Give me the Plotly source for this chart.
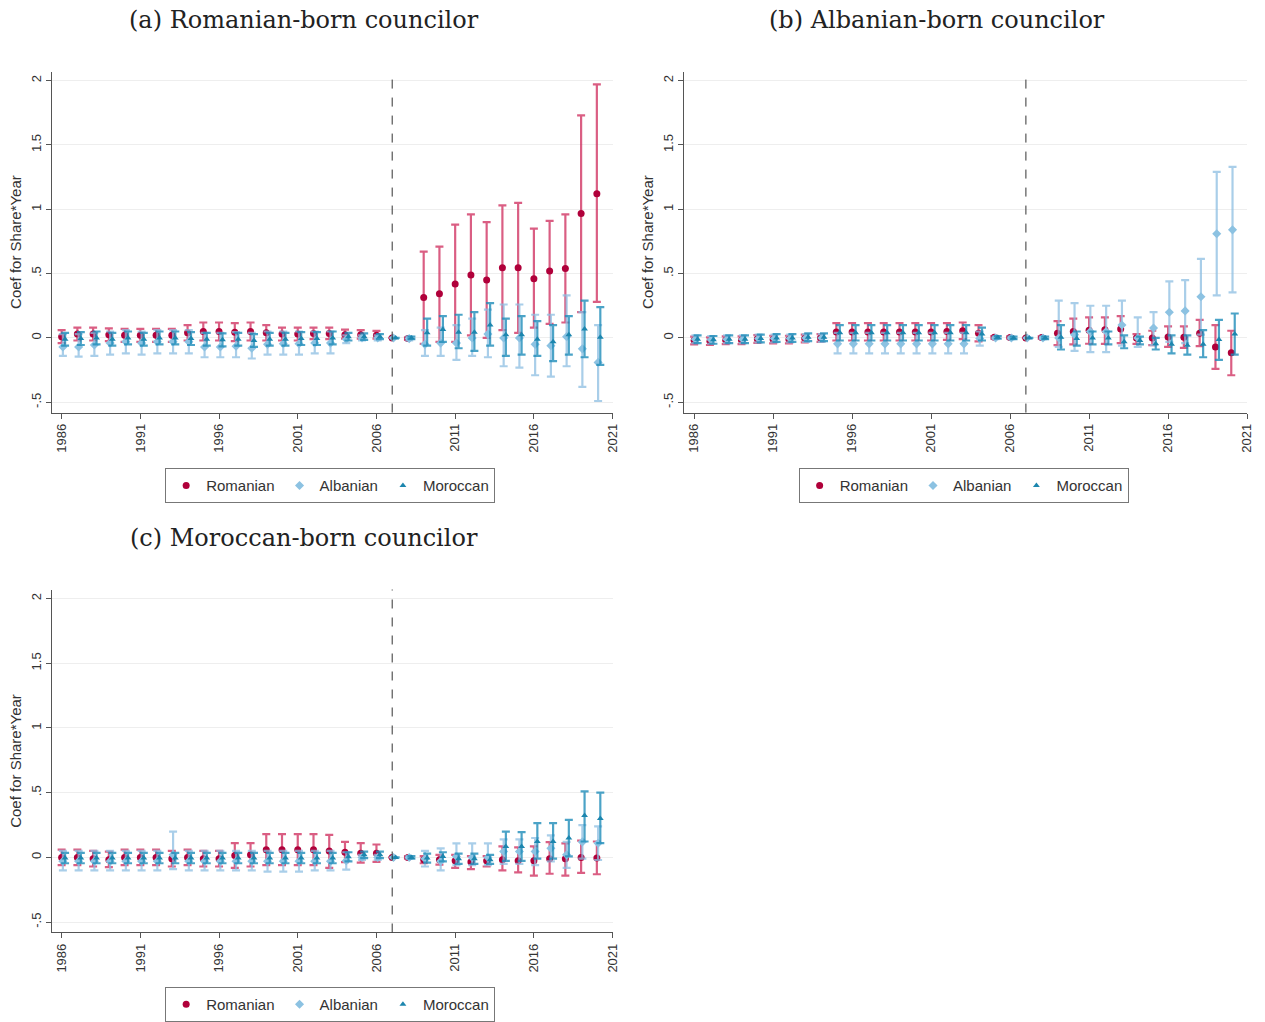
import plotly.graph_objects as go

# Event-study coefficients (Share*Year) by councilor origin, 2007 = reference year
YEARS = list(range(1986, 2021))
REF_YEAR = 2007

# ---------- (a) Romanian-born councilor ----------
ROM_A = [0.01, 0.03, 0.03, 0.025, 0.02, 0.02, 0.02, 0.02, 0.04, 0.05, 0.05, 0.045, 0.05, 0.04, 0.03, 0.03, 0.035, 0.035,
         0.025, 0.025, 0.02, 0.0, -0.005,
         0.315, 0.344, 0.42, 0.49, 0.45, 0.546, 0.546, 0.46, 0.52, 0.54, 0.967, 1.12]
ROM_A_HI = [0.06, 0.08, 0.08, 0.075, 0.07, 0.07, 0.07, 0.07, 0.1, 0.12, 0.12, 0.115, 0.12, 0.1, 0.08, 0.08, 0.08, 0.08,
            0.064, 0.06, 0.055, 0.0, 0.005,
            0.67, 0.71, 0.88, 0.96, 0.9, 1.03, 1.05, 0.85, 0.91, 0.96, 1.73, 1.97]
ROM_A_LO = [-0.04, -0.02, -0.02, -0.025, -0.03, -0.03, -0.03, -0.03, -0.02, -0.02, -0.02, -0.025, -0.02, -0.02, -0.02, -0.02, -0.01, -0.01,
            -0.005, -0.005, -0.005, 0.0, -0.015,
            -0.046, -0.03, -0.03, 0.02, 0.0, 0.06, 0.04, 0.08, 0.11, 0.12, 0.2, 0.28]
ALB_A = [-0.07, -0.07, -0.055, -0.04, -0.03, -0.04, -0.03, -0.03, -0.03, -0.07, -0.07, -0.065, -0.08, -0.05, -0.045, -0.045, -0.04, -0.04,
         -0.01, 0.0, 0.0, 0.0, -0.005,
         -0.05, -0.04, -0.04, 0.0, 0.03, 0.0, 0.0, -0.05, -0.06, 0.01, -0.085, -0.19]
ALB_A_HI = [0.03, 0.03, 0.04, 0.05, 0.06, 0.05, 0.06, 0.06, 0.06, 0.04, 0.04, 0.045, 0.04, 0.05, 0.05, 0.05, 0.05, 0.05,
            0.02, 0.02, 0.02, 0.0, 0.01,
            0.06, 0.08, 0.1, 0.15, 0.22, 0.26, 0.26, 0.18, 0.18, 0.33, 0.2, 0.1]
ALB_A_LO = [-0.14, -0.145, -0.14, -0.13, -0.12, -0.13, -0.12, -0.12, -0.12, -0.15, -0.15, -0.15, -0.16, -0.13, -0.13, -0.13, -0.12, -0.12,
            -0.04, -0.02, -0.02, 0.0, -0.02,
            -0.14, -0.14, -0.17, -0.14, -0.15, -0.22, -0.23, -0.29, -0.3, -0.22, -0.38, -0.49]
MOR_A = [-0.01, -0.005, 0.0, -0.01, 0.0, -0.01, 0.0, 0.0, -0.005, -0.01, -0.015, -0.01, -0.02, -0.01, -0.01, -0.005, -0.005, 0.0,
         0.01, 0.01, 0.01, 0.0, 0.0,
         0.04, 0.065, 0.045, 0.045, 0.1, 0.025, 0.025, -0.01, -0.03, 0.025, 0.07, 0.005]
MOR_A_HI = [0.04, 0.045, 0.05, 0.04, 0.05, 0.04, 0.05, 0.05, 0.045, 0.04, 0.035, 0.04, 0.03, 0.04, 0.04, 0.045, 0.045, 0.05,
            0.04, 0.035, 0.03, 0.0, 0.01,
            0.15, 0.17, 0.18, 0.2, 0.27, 0.15, 0.17, 0.13, 0.1, 0.17, 0.29, 0.24]
MOR_A_LO = [-0.06, -0.055, -0.05, -0.06, -0.05, -0.06, -0.05, -0.05, -0.055, -0.06, -0.065, -0.06, -0.07, -0.06, -0.06, -0.055, -0.055, -0.05,
            -0.02, -0.015, -0.01, 0.0, -0.01,
            -0.06, -0.03, -0.08, -0.1, -0.06, -0.14, -0.13, -0.14, -0.18, -0.13, -0.15, -0.21]

# ---------- (b) Albanian-born councilor ----------
ROM_B = [-0.02, -0.025, -0.018, -0.018, -0.008, -0.013, -0.013, -0.005, 0.0, 0.046, 0.046, 0.046, 0.046, 0.046, 0.046, 0.046, 0.05, 0.056,
         0.036, 0.005, 0.003, 0.0, 0.003,
         0.036, 0.05, 0.06, 0.064, 0.07, 0.0, 0.0, 0.008, 0.005, 0.036, -0.07, -0.115]
ROM_B_HI = [0.01, 0.005, 0.012, 0.012, 0.022, 0.017, 0.017, 0.025, 0.03, 0.115, 0.115, 0.115, 0.115, 0.115, 0.115, 0.115, 0.115, 0.12,
            0.1, 0.015, 0.012, 0.0, 0.012,
            0.13, 0.15, 0.16, 0.16, 0.17, 0.03, 0.056, 0.09, 0.09, 0.14, 0.1, 0.056]
ROM_B_LO = [-0.05, -0.055, -0.048, -0.048, -0.038, -0.043, -0.043, -0.035, -0.03, -0.02, -0.02, -0.02, -0.02, -0.02, -0.02, -0.02, -0.015, -0.01,
            -0.026, -0.005, -0.006, 0.0, -0.006,
            -0.056, -0.05, -0.045, -0.046, -0.04, -0.046, -0.056, -0.07, -0.077, -0.064, -0.24, -0.29]
ALB_B = [-0.01, -0.015, -0.01, -0.01, -0.005, -0.005, -0.005, 0.0, 0.0, -0.046, -0.046, -0.046, -0.046, -0.046, -0.046, -0.046, -0.046, -0.046,
         -0.005, 0.0, 0.0, 0.0, 0.0,
         0.0, 0.025, 0.05, 0.05, 0.1, 0.0, 0.077, 0.2, 0.21, 0.32, 0.81, 0.84]
ALB_B_HI = [0.02, 0.015, 0.02, 0.02, 0.025, 0.025, 0.025, 0.03, 0.03, 0.04, 0.04, 0.04, 0.04, 0.04, 0.04, 0.04, 0.04, 0.04,
            0.05, 0.01, 0.01, 0.0, 0.01,
            0.29, 0.27, 0.25, 0.25, 0.29, 0.16, 0.2, 0.44, 0.45, 0.615, 1.29, 1.33]
ALB_B_LO = [-0.04, -0.045, -0.04, -0.04, -0.035, -0.035, -0.035, -0.03, -0.03, -0.12, -0.12, -0.12, -0.12, -0.12, -0.12, -0.12, -0.12, -0.12,
            -0.06, -0.01, -0.01, 0.0, -0.01,
            -0.07, -0.1, -0.11, -0.11, -0.06, -0.07, -0.056, -0.03, -0.04, 0.026, 0.33, 0.354]
MOR_B = [-0.01, -0.015, -0.01, -0.01, -0.005, 0.0, 0.0, 0.005, 0.005, 0.04, 0.04, 0.04, 0.04, 0.04, 0.04, 0.04, 0.04, 0.04,
         0.03, 0.005, 0.0, 0.0, 0.0,
         0.005, -0.005, 0.0, 0.0, -0.03, -0.02, -0.046, -0.05, -0.056, -0.05, -0.013, 0.03]
MOR_B_HI = [0.02, 0.015, 0.02, 0.02, 0.025, 0.03, 0.03, 0.035, 0.035, 0.1, 0.1, 0.1, 0.1, 0.1, 0.1, 0.1, 0.1, 0.1,
            0.08, 0.015, 0.01, 0.0, 0.01,
            0.1, 0.05, 0.05, 0.05, 0.02, 0.01, 0.0, 0.02, 0.02, 0.06, 0.14, 0.19]
MOR_B_LO = [-0.04, -0.045, -0.04, -0.04, -0.035, -0.03, -0.03, -0.025, -0.025, -0.02, -0.02, -0.02, -0.02, -0.02, -0.02, -0.02, -0.02, -0.02,
            -0.02, -0.005, -0.01, 0.0, -0.01,
            -0.09, -0.06, -0.05, -0.05, -0.08, -0.05, -0.09, -0.12, -0.13, -0.15, -0.17, -0.13]

# ---------- (c) Moroccan-born councilor ----------
ROM_C = [0.0, 0.0, -0.01, -0.018, 0.0, 0.0, 0.0, -0.01, 0.0, -0.01, -0.01, 0.015, 0.02, 0.06, 0.06, 0.06, 0.06, 0.05,
         0.04, 0.033, 0.033, 0.0, 0.0,
         -0.018, -0.018, -0.026, -0.036, -0.026, -0.018, -0.026, -0.026, -0.01, -0.01, 0.0, -0.005]
ROM_C_HI = [0.06, 0.06, 0.05, 0.045, 0.06, 0.06, 0.06, 0.05, 0.06, 0.05, 0.05, 0.11, 0.11, 0.18, 0.18, 0.18, 0.18, 0.175,
            0.12, 0.11, 0.1, 0.0, 0.01,
            0.01, 0.02, 0.02, 0.01, 0.01, 0.085, 0.077, 0.085, 0.118, 0.108, 0.13, 0.123]
ROM_C_LO = [-0.06, -0.06, -0.07, -0.075, -0.06, -0.06, -0.06, -0.07, -0.06, -0.07, -0.07, -0.08, -0.07, -0.06, -0.06, -0.06, -0.06, -0.08,
            -0.036, -0.04, -0.035, 0.0, -0.01,
            -0.045, -0.055, -0.08, -0.09, -0.07, -0.1, -0.116, -0.14, -0.126, -0.14, -0.12, -0.13]
ALB_C = [-0.03, -0.03, -0.03, -0.03, -0.03, -0.03, -0.03, 0.02, -0.03, -0.03, -0.03, -0.03, -0.03, -0.03, -0.03, -0.03, -0.03, -0.03,
         -0.026, 0.0, 0.0, 0.0, 0.0,
         -0.01, -0.03, 0.008, 0.0, 0.0, 0.046, 0.046, 0.046, 0.07, 0.02, 0.12, 0.11]
ALB_C_HI = [0.05, 0.05, 0.05, 0.05, 0.05, 0.05, 0.05, 0.2, 0.05, 0.05, 0.05, 0.05, 0.05, 0.05, 0.05, 0.05, 0.05, 0.05,
            0.04, 0.02, 0.02, 0.0, 0.01,
            0.05, 0.07, 0.108, 0.108, 0.108, 0.14, 0.14, 0.15, 0.17, 0.12, 0.25, 0.24]
ALB_C_LO = [-0.1, -0.1, -0.1, -0.1, -0.1, -0.1, -0.1, -0.09, -0.1, -0.1, -0.1, -0.1, -0.1, -0.11, -0.11, -0.11, -0.1, -0.1,
            -0.095, -0.02, -0.02, 0.0, -0.01,
            -0.07, -0.1, -0.06, -0.06, -0.06, -0.05, -0.05, -0.06, -0.03, -0.08, -0.01, -0.02]
MOR_C = [-0.005, -0.005, -0.005, -0.005, -0.005, -0.005, -0.005, -0.005, -0.005, -0.005, -0.005, -0.005, -0.005, -0.005, -0.005, -0.005, -0.005, -0.005,
         0.005, 0.02, 0.02, 0.0, 0.0,
         -0.005, 0.008, -0.01, -0.01, -0.018, 0.085, 0.085, 0.123, 0.123, 0.15, 0.324, 0.3]
MOR_C_HI = [0.035, 0.035, 0.035, 0.035, 0.035, 0.035, 0.035, 0.035, 0.035, 0.035, 0.035, 0.035, 0.035, 0.035, 0.035, 0.035, 0.035, 0.035,
            0.04, 0.045, 0.045, 0.0, 0.01,
            0.03, 0.04, 0.03, 0.03, 0.02, 0.2, 0.195, 0.265, 0.265, 0.29, 0.51, 0.5]
MOR_C_LO = [-0.045, -0.045, -0.045, -0.045, -0.045, -0.045, -0.045, -0.045, -0.045, -0.045, -0.045, -0.045, -0.045, -0.045, -0.045, -0.045, -0.045, -0.045,
            -0.03, -0.005, -0.005, 0.0, -0.01,
            -0.04, -0.03, -0.05, -0.05, -0.05, -0.026, -0.026, -0.01, -0.01, 0.008, 0.123, 0.11]

PANEL_TITLES = ["(a) Romanian-born councilor", "(b) Albanian-born councilor", "(c) Moroccan-born councilor"]
SERIES_NAMES = ["Romanian", "Albanian", "Moroccan"]
Y_TICKS = [-0.5, 0, 0.5, 1, 1.5, 2]
Y_TICK_TEXT = ["-.5", "0", ".5", "1", "1.5", "2"]
X_TICKS = [1986, 1991, 1996, 2001, 2006, 2011, 2016, 2021]

panels = [
    [(ROM_A, ROM_A_LO, ROM_A_HI), (ALB_A, ALB_A_LO, ALB_A_HI), (MOR_A, MOR_A_LO, MOR_A_HI)],
    [(ROM_B, ROM_B_LO, ROM_B_HI), (ALB_B, ALB_B_LO, ALB_B_HI), (MOR_B, MOR_B_LO, MOR_B_HI)],
    [(ROM_C, ROM_C_LO, ROM_C_HI), (ALB_C, ALB_C_LO, ALB_C_HI), (MOR_C, MOR_C_LO, MOR_C_HI)],
]

# marker style per series: symbol, marker colour, bar colour, x-shift (years)
STYLES = [
    dict(symbol="circle", color="#B0003A", bar="rgba(205,40,90,0.75)", shift=0.0, size=7),
    dict(symbol="diamond", color="#8CC2E2", bar="rgba(140,190,225,0.75)", shift=0.08, size=7),
    dict(symbol="triangle-up", color="#1C86AE", bar="rgba(30,140,185,0.8)", shift=0.22, size=6),
]

W, H = 1265, 1022
# plot-area boxes in pixels: (left, right, top, bottom)
BOXES = [(52, 616, 72, 415), (688, 1254, 72, 415), (52, 616, 593, 938)]
LEGEND_POS = [(332, 471), (969, 471), (332, 993)]
TITLE_POS = [(306, 20), (942, 20), (306, 541)]

fig = go.Figure()
axis_font = dict(family="Liberation Sans, Arial, sans-serif", size=13, color="#333")

for p, series in enumerate(panels):
    suffix = "" if p == 0 else str(p + 1)
    legend_id = "legend" if p == 0 else f"legend{p + 1}"
    for s, (coef, lo, hi) in enumerate(series):
        st = STYLES[s]
        fig.add_trace(go.Scatter(
            x=[y + st["shift"] for y in YEARS],
            y=coef,
            mode="markers",
            name=SERIES_NAMES[s],
            marker=dict(symbol=st["symbol"], color=st["color"], size=st["size"]),
            error_y=dict(type="data", symmetric=False,
                         array=[h - c for h, c in zip(hi, coef)],
                         arrayminus=[c - l for c, l in zip(coef, lo)],
                         color=st["bar"], thickness=2.2, width=4),
            xaxis="x" + suffix, yaxis="y" + suffix,
            legend=legend_id, showlegend=True,
        ))

    l, r, t, b = BOXES[p]
    fig.layout["xaxis" + suffix] = dict(
        domain=[l / W, r / W], anchor="y" + suffix, range=[1985.37, 2021],
        tickvals=X_TICKS, ticktext=[str(v) for v in X_TICKS], tickangle=-90,
        ticks="outside", ticklen=5, tickcolor="#555", showline=True, linecolor="#555",
        linewidth=1, showgrid=False, zeroline=False, tickfont=axis_font,
    )
    fig.layout["yaxis" + suffix] = dict(
        domain=[1 - b / H, 1 - t / H], anchor="x" + suffix, range=[-0.58, 2.07],
        tickvals=Y_TICKS, ticktext=Y_TICK_TEXT, tickangle=-90,
        ticks="outside", ticklen=5, tickcolor="#555", showline=True, linecolor="#555",
        linewidth=1, showgrid=True, gridcolor="#EEEEEE", gridwidth=1, zeroline=False,
        tickfont=axis_font,
        title=dict(text="Coef for Share*Year", standoff=3,
                   font=dict(family="Liberation Sans, Arial, sans-serif", size=15, color="#333")),
    )
    # reference-year marker
    fig.add_shape(type="line", xref="x" + suffix, yref="y" + suffix + " domain",
                  x0=REF_YEAR, x1=REF_YEAR, y0=0, y1=1,
                  line=dict(color="#333", width=1, dash="dash"))

    lx, ly = LEGEND_POS[p]
    fig.layout[legend_id] = dict(
        x=lx / W, y=1 - ly / H, xanchor="center", yanchor="top", orientation="h",
        bordercolor="#777", borderwidth=1, bgcolor="white",
        font=dict(family="Liberation Sans, Arial, sans-serif", size=15, color="#333"),
        itemwidth=30, tracegroupgap=0,
    )

    tx, ty = TITLE_POS[p]
    fig.add_annotation(text=PANEL_TITLES[p], x=tx / W, y=1 - ty / H, xref="paper", yref="paper",
                       xanchor="center", yanchor="middle", showarrow=False,
                       font=dict(family="DejaVu Serif, serif", size=24, color="#222"))

fig.update_layout(
    width=W, height=H, margin=dict(l=0, r=0, t=0, b=0),
    paper_bgcolor="white", plot_bgcolor="white",
)

fig.write_html("out.html")
